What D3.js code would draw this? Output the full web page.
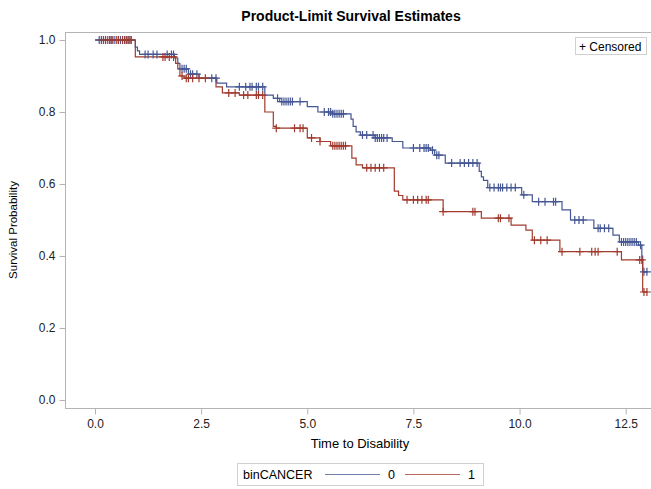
<!DOCTYPE html>
<html>
<head>
<meta charset="utf-8">
<script src="https://cdn.jsdelivr.net/npm/d3@7"></script>
<style>
html,body{margin:0;padding:0;background:#fff;}
svg{display:block;font-family:"Liberation Sans",Arial,sans-serif;}
</style>
</head>
<body>
<svg id="chart" width="651" height="489"></svg>
<script>
// ---- data ----
const groups = ["0", "1"];
const groupColors = ["#445694", "#A23A2E"];

// group 0 (blue): step times and survival levels
const g0Times = [0, 0.95, 1.0, 1.05, 1.87, 1.95, 2.0, 2.2, 2.45, 2.87, 3.1, 4.0, 4.2, 4.35, 5.0, 5.25, 5.6, 6.03, 6.08, 6.15, 6.25, 6.6, 7.0, 7.25, 7.9, 8.0, 8.25, 9.05, 9.1, 9.15, 9.25, 10.05, 10.3, 11.0, 11.2, 11.75, 12.2, 12.35, 12.8, 12.88, 12.9];
const g0Surv  = [1, 0.98, 0.97, 0.96, 0.95, 0.935, 0.92, 0.905, 0.894, 0.88, 0.87, 0.847, 0.838, 0.829, 0.815, 0.80, 0.795, 0.78, 0.76, 0.745, 0.736, 0.728, 0.718, 0.70, 0.694, 0.68, 0.658, 0.635, 0.62, 0.61, 0.59, 0.57, 0.551, 0.528, 0.50, 0.477, 0.458, 0.439, 0.43, 0.40, 0.356];
const g0Cens  = [0.1, 0.15, 0.2, 0.3, 0.35, 0.4, 0.45, 0.55, 0.6, 0.7, 0.75, 0.8, 0.85, 1.18, 1.25, 1.37, 1.46, 1.7, 1.8, 1.85, 2.05, 2.1, 2.15, 2.25, 2.3, 2.4, 2.75, 2.85, 3.4, 3.55, 3.65, 3.7, 3.8, 3.85, 3.95, 4.3, 4.4, 4.45, 4.5, 4.55, 4.6, 4.65, 4.83, 5.4, 5.5, 5.55, 5.6, 5.65, 5.7, 5.75, 5.8, 5.85, 6.3, 6.4, 6.55, 6.6, 6.65, 6.7, 6.75, 6.8, 6.88, 7.5, 7.65, 7.75, 7.8, 7.85, 7.95, 8.05, 8.1, 8.4, 8.6, 8.7, 8.8, 8.9, 9.0, 9.3, 9.4, 9.5, 9.55, 9.6, 9.7, 9.8, 9.9, 10.1, 10.45, 10.6, 10.8, 10.85, 11.3, 11.4, 11.5, 11.85, 11.9, 12.0, 12.1, 12.4, 12.45, 12.5, 12.55, 12.6, 12.65, 12.7, 12.75, 12.85, 12.93, 13.0];

// group 1 (red)
const g1Times = [0, 0.95, 1.9, 1.95, 2.0, 2.1, 2.85, 3.0, 3.4, 4.0, 4.2, 4.27, 5.0, 5.3, 5.55, 6.05, 6.15, 6.3, 7.05, 7.15, 7.25, 8.2, 9.1, 9.8, 10.15, 10.3, 10.95, 12.4, 12.9];
const g1Surv  = [1, 0.953, 0.935, 0.92, 0.90, 0.894, 0.87, 0.853, 0.847, 0.80, 0.76, 0.755, 0.728, 0.718, 0.706, 0.672, 0.653, 0.645, 0.58, 0.568, 0.556, 0.523, 0.505, 0.486, 0.472, 0.444, 0.412, 0.389, 0.30];
const g1Cens  = [0.2, 0.25, 0.35, 0.4, 0.5, 0.55, 0.65, 0.7, 0.75, 0.8, 0.85, 1.6, 1.65, 1.75, 1.85, 2.05, 2.15, 2.2, 2.3, 2.45, 2.6, 3.15, 3.3, 3.5, 3.6, 3.8, 3.85, 3.95, 4.27, 4.7, 4.83, 4.9, 5.1, 5.3, 5.6, 5.65, 5.7, 5.75, 5.8, 5.85, 5.9, 6.4, 6.5, 6.6, 6.7, 6.8, 7.35, 7.5, 7.6, 7.7, 7.8, 7.85, 8.2, 8.9, 8.95, 9.5, 9.55, 9.75, 10.35, 10.5, 10.65, 11.0, 11.42, 11.7, 11.78, 11.85, 12.3, 12.83, 12.88, 12.93, 13.0];

const xTicks = [0, 2.5, 5, 7.5, 10, 12.5];
const yTicks = [0, 0.2, 0.4, 0.6, 0.8, 1.0];

const title = "Product-Limit Survival Estimates";
const xTitle = "Time to Disability";
const yTitle = "Survival Probability";
const legendTitle = "binCANCER";
const censorLabel = "+ Censored";

// ---- drawing ----
const svg = d3.select("#chart");
const frame = {left: 65.5, top: 32.5, right: 656, bottom: 408.5};

const x = d3.scaleLinear().domain([0, 12.5]).range([95, 625.7]);
const y = d3.scaleLinear().domain([0, 1]).range([400, 40]);

// title
svg.append("text").attr("x", 351).attr("y", 21).attr("text-anchor", "middle")
  .attr("font-size", 14).attr("font-weight", "bold").attr("fill", "#000").text(title);

// frame
svg.append("rect").attr("x", frame.left).attr("y", frame.top)
  .attr("width", frame.right - frame.left).attr("height", frame.bottom - frame.top)
  .attr("fill", "none").attr("stroke", "#B4B4B4").attr("stroke-width", 1);

// axes
const xAxis = d3.axisBottom(x).tickValues(xTicks).tickFormat(d3.format(".1f")).tickSize(6).tickPadding(5);
const gx = svg.append("g").attr("transform", `translate(0,${frame.bottom})`).call(xAxis);
gx.select(".domain").remove();
gx.selectAll(".tick line").attr("stroke", "#B4B4B4");
gx.selectAll(".tick text").attr("font-size", 12).attr("fill", "#222").attr("font-family", "Liberation Sans, Arial, sans-serif");

const yAxis = d3.axisLeft(y).tickValues(yTicks).tickFormat(d3.format(".1f")).tickSize(6).tickPadding(4);
const gy = svg.append("g").attr("transform", `translate(${frame.left},0)`).call(yAxis);
gy.select(".domain").remove();
gy.selectAll(".tick line").attr("stroke", "#B4B4B4");
gy.selectAll(".tick text").attr("font-size", 12).attr("fill", "#222").attr("font-family", "Liberation Sans, Arial, sans-serif");

// axis titles
svg.append("text").attr("x", 360).attr("y", 448).attr("text-anchor", "middle")
  .attr("font-size", 13).attr("fill", "#000").text(xTitle);
svg.append("text").attr("transform", "translate(17,230) rotate(-90)").attr("text-anchor", "middle")
  .attr("font-size", 11.5).attr("fill", "#000").text(yTitle);

// curves
const series = [
  {name: groups[0], times: g0Times, surv: g0Surv, cens: g0Cens, color: groupColors[0]},
  {name: groups[1], times: g1Times, surv: g1Surv, cens: g1Cens, color: groupColors[1]}
];

function survAt(s, t) {
  const i = d3.bisectRight(s.times, t) - 1;
  return s.surv[Math.max(0, i)];
}

const line = d3.line().x(d => x(d[0])).y(d => y(d[1])).curve(d3.curveStepAfter);

series.forEach(s => {
  const pts = s.times.map((t, i) => [t, s.surv[i]]);
  const tEnd = d3.max(s.cens);
  pts.push([tEnd, survAt(s, tEnd)]);
  svg.append("path").datum(pts).attr("d", line).attr("fill", "none")
    .attr("stroke", s.color).attr("stroke-width", 1.2);
});

series.forEach(s => {
  svg.append("g").selectAll("path").data(s.cens).join("path")
    .attr("transform", t => `translate(${x(t)},${y(survAt(s, t))})`)
    .attr("d", "M-4,0H4M0,-4V4")
    .attr("stroke", s.color).attr("stroke-width", 1.2).attr("fill", "none");
});

// censored legend box
const cb = svg.append("g");
cb.append("rect").attr("x", 575.5).attr("y", 37.5).attr("width", 71).attr("height", 17)
  .attr("fill", "#fff").attr("stroke", "#D0D0D0");
cb.append("text").attr("x", 579).attr("y", 50.5).attr("font-size", 12).attr("fill", "#000").text(censorLabel);

// bottom legend
const lg = svg.append("g");
lg.append("rect").attr("x", 237.5).attr("y", 463.5).attr("width", 246).attr("height", 22)
  .attr("fill", "#fff").attr("stroke", "#D0D0D0");
lg.append("text").attr("x", 243).attr("y", 479).attr("font-size", 12.5).attr("fill", "#000").text(legendTitle);
const legendItems = [
  {name: groups[0], color: groupColors[0], x0: 325},
  {name: groups[1], color: groupColors[1], x0: 405}
];
legendItems.forEach(it => {
  lg.append("line").attr("x1", it.x0).attr("x2", it.x0 + 55).attr("y1", 474.5).attr("y2", 474.5)
    .attr("stroke", it.color).attr("stroke-width", 1).attr("opacity", 0.75);
  lg.append("text").attr("x", it.x0 + 63).attr("y", 479).attr("font-size", 12.5).attr("fill", "#000").text(it.name);
});
</script>
</body>
</html>
